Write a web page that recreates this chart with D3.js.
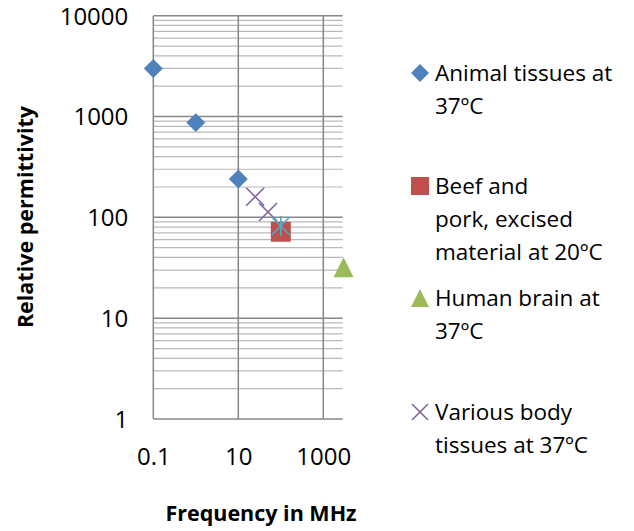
<!DOCTYPE html>
<html>
<head>
<meta charset="utf-8">
<script src="https://cdn.jsdelivr.net/npm/d3@7"></script>
<style>
  body { margin: 0; background: #fff; }
  svg text { font-family: "Open Sans", "Liberation Sans", sans-serif; fill: #000; }
</style>
</head>
<body>
<div id="chart"></div>
<script>
// values
const animalFreq = [0.1, 1, 10];
const animalPerm = [3000, 870, 240];
const beefFreq = [100];
const beefPerm = [72];
const brainFreq = [3000];
const brainPerm = [32];
const bodyFreq = [25, 50];
const bodyPerm = [160, 113];
const extraFreq = [100];   // cyan star, not in legend
const extraPerm = [82];

const xTicks = [0.1, 10, 1000];
const yTicks = [1, 10, 100, 1000, 10000];

const legendNames = [
  ["Animal tissues at", "37ºC"],
  ["Beef and", "pork, excised", "material at 20ºC"],
  ["Human brain at", "37ºC"],
  ["Various body", "tissues at 37ºC"]
];

const width = 634, height = 531;
const plotLeft = 153.3, plotRight = 342.7, plotTop = 15.7, plotBottom = 419;

const svg = d3.select("#chart").append("svg")
  .attr("width", width)
  .attr("height", height);

// 42.5 px per decade on x
const xScale = d3.scaleLog()
  .domain([0.1, 10000])
  .range([plotLeft, plotLeft + 5 * 42.5]);

const yScale = d3.scaleLog()
  .domain([1, 10000])
  .range([plotBottom, plotTop]);

// minor horizontal grid
const minorY = [];
for (let e = 0; e < 4; e++) {
  for (let k = 2; k <= 9; k++) minorY.push(k * Math.pow(10, e));
}
svg.append("g").selectAll("line")
  .data(minorY)
  .enter().append("line")
  .attr("x1", plotLeft).attr("x2", plotRight)
  .attr("y1", d => yScale(d)).attr("y2", d => yScale(d))
  .attr("stroke", "#b9b9b9")
  .attr("stroke-width", 1.2);

// major horizontal grid
svg.append("g").selectAll("line")
  .data(yTicks)
  .enter().append("line")
  .attr("x1", plotLeft).attr("x2", plotRight)
  .attr("y1", d => yScale(d)).attr("y2", d => yScale(d))
  .attr("stroke", "#878787")
  .attr("stroke-width", 1.5);

// vertical grid
svg.append("g").selectAll("line")
  .data(xTicks)
  .enter().append("line")
  .attr("x1", d => xScale(d)).attr("x2", d => xScale(d))
  .attr("y1", plotTop).attr("y2", plotBottom)
  .attr("stroke", "#878787")
  .attr("stroke-width", 1.5);

// axis labels
const yAxis = d3.axisLeft(yScale)
  .tickValues(yTicks)
  .tickFormat(d3.format("d"))
  .tickSize(0)
  .tickPadding(25);
const gy = svg.append("g")
  .attr("transform", `translate(${plotLeft},0)`)
  .call(yAxis);
gy.select(".domain").remove();
gy.selectAll("text").style("font-size", "24px").attr("dy", "0.35em");

const xAxis = d3.axisBottom(xScale)
  .tickValues(xTicks)
  .tickFormat(d => d < 1 ? "0.1" : d3.format("d")(d))
  .tickSize(0)
  .tickPadding(29);
const gx = svg.append("g")
  .attr("transform", `translate(0,${plotBottom})`)
  .call(xAxis);
gx.select(".domain").remove();
gx.selectAll("text").style("font-size", "24px");

// titles
svg.append("text")
  .attr("x", 261).attr("y", 521)
  .attr("text-anchor", "middle")
  .style("font-size", "21.5px").style("font-weight", "bold")
  .text("Frequency in MHz");

svg.append("text")
  .attr("transform", "translate(33,217) rotate(-90)")
  .attr("text-anchor", "middle")
  .style("font-size", "21.5px").style("font-weight", "bold")
  .text("Relative permittivity");

// markers
const diamond = d3.symbol().type(d3.symbolSquare).size(180);
const square = d3.symbol().type(d3.symbolSquare).size(400);
const tri = s => `M0,${-s / 2}L${s / 2},${s / 2}L${-s / 2},${s / 2}Z`;

const zip = (xs, ys) => xs.map((x, i) => ({ f: x, p: ys[i] }));

svg.append("g").selectAll("path")
  .data(zip(animalFreq, animalPerm))
  .enter().append("path")
  .attr("d", diamond)
  .attr("transform", d => `translate(${xScale(d.f)},${yScale(d.p)}) rotate(45)`)
  .attr("fill", "#4f81bd");

svg.append("g").selectAll("path")
  .data(zip(beefFreq, beefPerm))
  .enter().append("path")
  .attr("d", square)
  .attr("transform", d => `translate(${xScale(d.f)},${yScale(d.p)})`)
  .attr("fill", "#c0504d");

svg.append("g").selectAll("path")
  .data(zip(brainFreq, brainPerm))
  .enter().append("path")
  .attr("d", tri(20))
  .attr("transform", d => `translate(${xScale(d.f)},${yScale(d.p)})`)
  .attr("fill", "#9bbb59");

svg.append("g").selectAll("path")
  .data(zip(bodyFreq, bodyPerm))
  .enter().append("path")
  .attr("d", "M-9,-9L9,9M-9,9L9,-9")
  .attr("transform", d => `translate(${xScale(d.f)},${yScale(d.p)})`)
  .attr("stroke", "#8064a2")
  .attr("stroke-width", 1.6)
  .attr("fill", "none");

svg.append("g").selectAll("path")
  .data(zip(extraFreq, extraPerm))
  .enter().append("path")
  .attr("d", "M-9,-9L9,9M-9,9L9,-9M0,-10L0,10")
  .attr("transform", d => `translate(${xScale(d.f)},${yScale(d.p)})`)
  .attr("stroke", "#4bacc6")
  .attr("stroke-width", 1.6)
  .attr("fill", "none");

// legend
const legendY = [73, 186, 298, 412];
const lineGap = 33;
const legend = svg.append("g").attr("transform", "translate(420,0)");
const legendMarks = [
  g => g.append("path").attr("d", d3.symbol().type(d3.symbolSquare).size(160)).attr("transform", "rotate(45)").attr("fill", "#4f81bd"),
  g => g.append("path").attr("d", d3.symbol().type(d3.symbolSquare).size(324)).attr("fill", "#c0504d"),
  g => g.append("path").attr("d", tri(18)).attr("fill", "#9bbb59"),
  g => g.append("path").attr("d", "M-8,-8L8,8M-8,8L8,-8").attr("stroke", "#8064a2").attr("stroke-width", 1.6)
];
legendNames.forEach((lines, i) => {
  const item = legend.append("g").attr("transform", `translate(0,${legendY[i]})`);
  legendMarks[i](item);
  lines.forEach((t, j) => {
    item.append("text")
      .attr("x", 15)
      .attr("y", j * lineGap)
      .attr("dy", "0.35em")
      .style("font-size", "22.5px")
      .text(t);
  });
});
</script>
</body>
</html>
